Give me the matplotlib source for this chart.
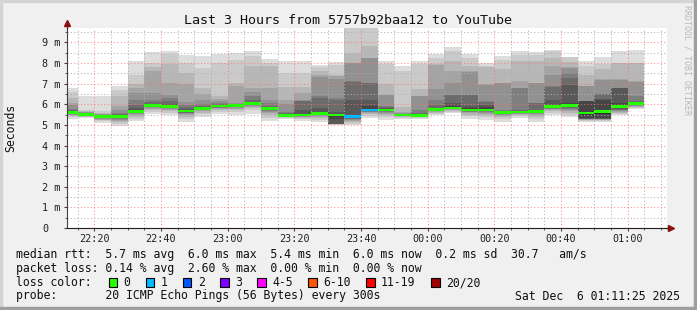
import numpy as np
import matplotlib
matplotlib.use("Agg")
import matplotlib.pyplot as plt
from matplotlib.patches import Rectangle

title = "Last 3 Hours from 5757b92baa12 to YouTube"

# time axis in minutes after 22:00, one smoke bar every 5 minutes
first_bar_min = 10
step_min = 5
view_start_min = 11.8
view_len_min = 180
major_tick_min = [20, 40, 60, 80, 100, 120, 140, 160, 180]
major_tick_labels = ["22:20", "22:40", "23:00", "23:20", "23:40",
                     "00:00", "00:20", "00:40", "01:00"]

y_ticks = [0, 1, 2, 3, 4, 5, 6, 7, 8, 9]
y_tick_labels = ["0", "1 m", "2 m", "3 m", "4 m", "5 m", "6 m", "7 m", "8 m", "9 m"]

median_ms = [5.61, 5.52, 5.40, 5.42, 5.66, 5.94, 5.89, 5.68, 5.79, 5.92,
             5.94, 6.05, 5.79, 5.46, 5.48, 5.56, 5.48, 5.40, 5.72, 5.73,
             5.48, 5.46, 5.74, 5.82, 5.72, 5.73, 5.60, 5.63, 5.66, 5.88,
             5.93, 5.57, 5.65, 5.89, 6.04]

loss_count = [0, 0, 0, 0, 0, 0, 0, 0, 0, 0,
              0, 0, 0, 0, 0, 0, 0, 1, 1, 0,
              0, 0, 0, 0, 0, 0, 0, 0, 0, 0,
              0, 0, 0, 0, 0]

# upper smoke edges, outer ping -> inner ping (ms)
smoke_hi = [
    [6.81, 6.59, 6.29, 6.05, 5.95, 5.78, 5.72, 5.68, 5.65, 5.63],
    [6.42, 5.74, 5.68, 5.64, 5.61, 5.59, 5.57, 5.56, 5.55, 5.54],
    [6.42, 5.66, 5.60, 5.55, 5.51, 5.48, 5.46, 5.44, 5.43, 5.42],
    [6.91, 6.70, 6.39, 5.90, 5.70, 5.60, 5.53, 5.49, 5.46, 5.44],
    [8.09, 7.44, 7.00, 6.80, 6.54, 6.20, 5.95, 5.80, 5.72, 5.69],
    [8.54, 8.00, 7.80, 7.60, 6.55, 6.23, 6.10, 6.03, 5.99, 5.97],
    [8.57, 8.45, 7.93, 7.04, 6.47, 6.30, 6.15, 6.02, 5.96, 5.93],
    [8.41, 7.98, 7.50, 7.00, 6.13, 5.95, 5.85, 5.77, 5.73, 5.70],
    [8.33, 7.77, 6.80, 6.50, 6.23, 5.99, 5.92, 5.87, 5.84, 5.82],
    [8.46, 8.00, 6.39, 6.25, 6.15, 6.05, 6.00, 5.97, 5.95, 5.94],
    [8.49, 8.17, 7.04, 6.90, 6.07, 6.02, 5.99, 5.97, 5.96, 5.95],
    [8.57, 8.33, 7.84, 6.80, 6.60, 6.39, 6.20, 6.12, 6.08, 6.06],
    [8.22, 8.00, 7.84, 6.80, 6.23, 6.05, 5.90, 5.84, 5.81, 5.80],
    [8.08, 7.51, 6.86, 6.21, 6.00, 5.65, 5.56, 5.51, 5.49, 5.47],
    [8.08, 7.51, 6.86, 6.53, 6.20, 6.18, 6.16, 5.70, 5.53, 5.50],
    [7.89, 7.80, 7.60, 7.44, 7.30, 6.39, 6.30, 5.80, 5.62, 5.58],
    [8.04, 7.90, 7.43, 7.35, 7.25, 6.30, 6.20, 5.65, 5.55, 5.50],
    [10.5, 10.0, 8.49, 8.01, 8.00, 7.12, 7.10, 6.23, 5.50, 5.44],
    [10.5, 10.0, 8.82, 8.25, 8.24, 7.04, 7.02, 6.23, 5.90, 5.78],
    [8.12, 7.93, 6.96, 6.47, 6.45, 5.90, 5.85, 5.80, 5.77, 5.75],
    [7.88, 7.60, 5.85, 5.65, 5.58, 5.54, 5.52, 5.51, 5.50, 5.49],
    [8.12, 7.93, 6.72, 6.40, 6.38, 5.73, 5.60, 5.53, 5.50, 5.48],
    [8.45, 8.25, 7.93, 7.90, 6.72, 6.23, 5.95, 5.82, 5.77, 5.75],
    [8.77, 8.57, 8.09, 7.60, 7.04, 6.47, 6.45, 6.07, 5.90, 5.85],
    [8.45, 8.25, 7.85, 7.60, 7.58, 6.47, 6.45, 5.90, 5.80, 5.76],
    [8.00, 7.85, 7.83, 6.96, 6.94, 6.15, 6.10, 5.95, 5.85, 5.76],
    [8.36, 8.17, 7.71, 7.04, 7.02, 5.73, 5.69, 5.66, 5.63, 5.61],
    [8.58, 8.41, 8.09, 7.12, 6.80, 6.78, 5.73, 5.68, 5.65, 5.63],
    [8.54, 8.41, 8.09, 7.04, 7.02, 6.07, 6.05, 5.73, 5.70, 5.68],
    [8.62, 8.60, 8.25, 7.85, 7.44, 6.87, 6.85, 6.23, 5.95, 5.90],
    [8.29, 8.27, 8.05, 7.80, 7.78, 7.50, 7.27, 6.95, 6.05, 5.96],
    [8.08, 7.84, 7.44, 6.88, 6.87, 6.16, 6.155, 6.15, 6.14, 5.60],
    [8.29, 7.93, 7.71, 7.21, 7.20, 6.50, 6.49, 6.24, 6.23, 5.73],
    [8.57, 8.00, 7.98, 7.21, 7.19, 6.79, 6.78, 6.77, 6.07, 5.95],
    [8.62, 8.00, 7.98, 7.12, 7.10, 6.39, 6.15, 6.10, 6.07, 6.05],
]

# lower smoke edges, outer ping -> inner ping (ms)
smoke_lo = [
    [5.30, 5.38, 5.43, 5.47, 5.50, 5.53, 5.55, 5.57, 5.58, 5.59],
    [5.33, 5.37, 5.40, 5.43, 5.45, 5.47, 5.48, 5.49, 5.50, 5.51],
    [5.10, 5.17, 5.22, 5.26, 5.29, 5.32, 5.34, 5.36, 5.37, 5.38],
    [4.93, 5.05, 5.13, 5.20, 5.25, 5.29, 5.33, 5.36, 5.38, 5.40],
    [5.17, 5.30, 5.40, 5.47, 5.52, 5.56, 5.59, 5.61, 5.63, 5.64],
    [5.53, 5.65, 5.73, 5.79, 5.83, 5.86, 5.88, 5.90, 5.91, 5.92],
    [5.47, 5.60, 5.68, 5.74, 5.78, 5.81, 5.83, 5.85, 5.86, 5.87],
    [5.16, 5.30, 5.40, 5.47, 5.53, 5.57, 5.60, 5.62, 5.64, 5.65],
    [5.40, 5.52, 5.60, 5.66, 5.70, 5.73, 5.75, 5.76, 5.77, 5.78],
    [5.51, 5.63, 5.71, 5.77, 5.81, 5.84, 5.86, 5.88, 5.89, 5.90],
    [5.49, 5.62, 5.71, 5.77, 5.82, 5.85, 5.88, 5.90, 5.91, 5.92],
    [5.52, 5.70, 5.80, 5.87, 5.92, 5.96, 5.99, 6.01, 6.02, 6.03],
    [5.20, 5.35, 5.47, 5.56, 5.62, 5.67, 5.71, 5.74, 5.76, 5.77],
    [5.28, 5.33, 5.37, 5.39, 5.41, 5.42, 5.43, 5.44, 5.45, 5.455],
    [5.20, 5.28, 5.33, 5.37, 5.40, 5.42, 5.43, 5.44, 5.45, 5.46],
    [5.16, 5.25, 5.32, 5.38, 5.43, 5.47, 5.50, 5.52, 5.54, 5.55],
    [5.00, 5.01, 5.02, 5.03, 5.04, 5.05, 5.055, 5.06, 5.30, 5.43],
    [4.98, 5.05, 5.12, 5.18, 5.23, 5.27, 5.31, 5.34, 5.37, 5.39],
    [5.35, 5.45, 5.52, 5.57, 5.61, 5.64, 5.66, 5.68, 5.69, 5.70],
    [5.25, 5.38, 5.47, 5.54, 5.59, 5.63, 5.66, 5.68, 5.70, 5.71],
    [5.30, 5.35, 5.38, 5.41, 5.43, 5.44, 5.45, 5.46, 5.47, 5.475],
    [5.30, 5.35, 5.38, 5.41, 5.43, 5.44, 5.45, 5.46, 5.465, 5.47],
    [5.46, 5.54, 5.60, 5.64, 5.67, 5.69, 5.70, 5.71, 5.72, 5.725],
    [5.56, 5.63, 5.68, 5.72, 5.75, 5.77, 5.78, 5.79, 5.80, 5.81],
    [5.30, 5.42, 5.50, 5.56, 5.61, 5.64, 5.67, 5.69, 5.70, 5.71],
    [5.25, 5.38, 5.47, 5.54, 5.59, 5.63, 5.66, 5.68, 5.70, 5.71],
    [5.16, 5.30, 5.38, 5.44, 5.49, 5.52, 5.55, 5.57, 5.58, 5.59],
    [5.32, 5.42, 5.48, 5.52, 5.55, 5.57, 5.59, 5.60, 5.61, 5.615],
    [5.16, 5.30, 5.40, 5.47, 5.53, 5.57, 5.60, 5.62, 5.64, 5.65],
    [5.46, 5.58, 5.66, 5.72, 5.76, 5.79, 5.81, 5.83, 5.84, 5.85],
    [5.40, 5.50, 5.60, 5.68, 5.74, 5.79, 5.83, 5.86, 5.89, 5.91],
    [5.13, 5.18, 5.22, 5.25, 5.27, 5.29, 5.30, 5.31, 5.32, 5.50],
    [5.13, 5.18, 5.22, 5.25, 5.27, 5.29, 5.30, 5.31, 5.32, 5.55],
    [5.49, 5.55, 5.60, 5.64, 5.67, 5.70, 5.73, 5.76, 5.80, 5.85],
    [5.77, 5.82, 5.86, 5.89, 5.92, 5.95, 5.97, 5.99, 6.00, 6.01],
]

loss_labels = ["0", "1", "2", "3", "4-5", "6-10", "11-19", "20/20"]
loss_colors = ["#26ff00", "#00b8ff", "#0059ff", "#7e00ff",
               "#ff00ff", "#ff5500", "#ff0000", "#a00000"]

stats_rtt = "median rtt:  5.7 ms avg  6.0 ms max  5.4 ms min  6.0 ms now  0.2 ms sd  30.7   am/s"
stats_loss = "packet loss: 0.14 % avg  2.60 % max  0.00 % min  0.00 % now"
probe_text = "probe:       20 ICMP Echo Pings (56 Bytes) every 300s"
stamp_text = "Sat Dec  6 01:11:25 2025"

W, H = 697, 310
mono = "DejaVu Sans Mono"


def fx(x):
    return x / W


def fy(y):
    return 1 - y / H


fig = plt.figure(figsize=(W / 100, H / 100), dpi=100, facecolor="#f0f0f0")

# 3d-ish frame like rrdtool
fig.patches.append(Rectangle((0, 1 - 2 / H), 1, 2 / H, transform=fig.transFigure, color="#d4d4d4", zorder=0))
fig.patches.append(Rectangle((0, 0), 2 / W, 1, transform=fig.transFigure, color="#d4d4d4", zorder=0))
fig.patches.append(Rectangle((0, 0), 1, 3 / H, transform=fig.transFigure, color="#9e9e9e", zorder=0))
fig.patches.append(Rectangle((1 - 3 / W, 0), 3 / W, 1, transform=fig.transFigure, color="#9e9e9e", zorder=0))

ax = fig.add_axes([fx(67), fy(228), 600 / W, 200 / H])
ax.set_facecolor("white")

hi = np.array(smoke_hi)
lo = np.array(smoke_lo)
med = np.array(median_ms)
starts = first_bar_min + step_min * np.arange(len(median_ms))

for k in range(hi.shape[1]):
    g = int(190 / 10 * (9 - k)) + 50
    ax.bar(starts, hi[:, k] - lo[:, k], bottom=lo[:, k], width=step_min,
           align="edge", color=(g / 255, g / 255, g / 255), linewidth=0, zorder=2)

mcol = [loss_colors[min(c, 7)] for c in loss_count]
ax.bar(starts, 0.13, bottom=med - 0.065, width=step_min, align="edge",
       color=mcol, linewidth=0, zorder=3)

ax.set_xlim(view_start_min, view_start_min + view_len_min)
ax.set_ylim(0, 9.70)

ax.set_xticks(major_tick_min)
ax.set_xticklabels(major_tick_labels, fontfamily=mono, fontsize=7.3, color="#202020")
ax.set_xticks(np.arange(15, view_start_min + view_len_min, 5), minor=True)
ax.set_yticks(y_ticks)
ax.set_yticklabels(y_tick_labels, fontfamily=mono, fontsize=7.3, color="#202020")
ax.set_yticks(np.arange(0.5, 9.7, 1.0), minor=True)
for lbl in ax.get_yticklabels():
    lbl.set_ha("left")
ax.tick_params(axis="y", which="major", length=2, pad=16, color="#404040")
ax.tick_params(axis="y", which="minor", length=1.5, color="#404040")
ax.tick_params(axis="x", which="major", length=2, pad=2.5, color="#404040")
ax.tick_params(axis="x", which="minor", length=1.5, color="#404040")

ax.grid(True, which="minor", color="#b0b0b0", linestyle=(0, (1, 2)), linewidth=0.8, alpha=0.9, zorder=4)
ax.grid(True, which="major", color="#ff7070", linestyle=(0, (1, 2)), linewidth=0.8, alpha=0.75, zorder=4)
ax.set_axisbelow(False)

for s in ["top", "right"]:
    ax.spines[s].set_visible(False)
ax.spines["left"].set_color("#404040")
ax.spines["bottom"].set_color("#202020")
ax.spines["left"].set_zorder(5)
ax.spines["bottom"].set_zorder(5)

# axis arrows
ax.plot([0, 0], [1.0, 1.02], transform=ax.transAxes, color="#404040", lw=1, clip_on=False)
ax.plot([1.0, 1.003], [0, 0], transform=ax.transAxes, color="#202020", lw=1, clip_on=False)
ax.plot([0], [1.025], marker="^", markersize=4, color="#8b1010", transform=ax.transAxes, clip_on=False)
ax.plot([1.007], [0], marker=">", markersize=4, color="#8b1010", transform=ax.transAxes, clip_on=False)

fig.text(fx(348), fy(24), title, fontfamily=mono, fontsize=9.6, ha="center", va="baseline", color="#101010")
fig.text(fx(11), fy(128), "Seconds", fontfamily=mono, fontsize=8.3, rotation=90,
         ha="center", va="center", color="#101010")
fig.text(fx(687), fy(60), "RRDTOOL / TOBI OETIKER", fontfamily=mono, fontsize=6,
         rotation=270, ha="center", va="center", color="#b8b8b8")

leg_size = 8.3
adv = 6.94
fig.text(fx(16), fy(258), stats_rtt, fontfamily=mono, fontsize=leg_size, va="baseline", color="#101010")
fig.text(fx(16), fy(272), stats_loss, fontfamily=mono, fontsize=leg_size, va="baseline", color="#101010")
fig.text(fx(16), fy(286), "loss color:", fontfamily=mono, fontsize=leg_size, va="baseline", color="#101010")
fig.text(fx(16), fy(299.5), probe_text, fontfamily=mono, fontsize=leg_size, va="baseline", color="#101010")
fig.text(fx(680), fy(299.5), stamp_text, fontfamily=mono, fontsize=leg_size, va="baseline",
         ha="right", color="#101010")

x = 108.7
for lab, col in zip(loss_labels, loss_colors):
    fig.patches.append(Rectangle((fx(x), fy(286.7)), 8.5 / W, 9 / H, transform=fig.transFigure,
                                 facecolor=col, edgecolor="black", linewidth=0.8))
    fig.text(fx(x + 14.7), fy(286), lab, fontfamily=mono, fontsize=leg_size, va="baseline", color="#101010")
    x = x + 14.7 + adv * len(lab) + 15.5

fig.savefig("out.png", dpi=100, facecolor=fig.get_facecolor())
